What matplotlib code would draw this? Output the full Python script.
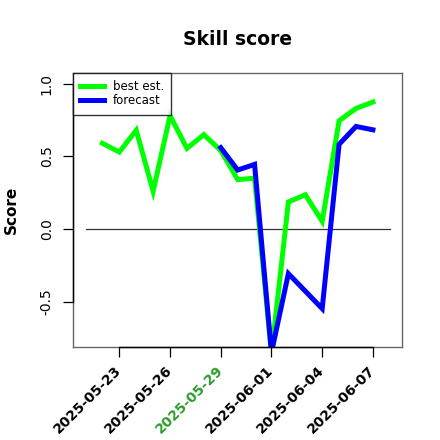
import numpy as np
import pandas as pd
import matplotlib
matplotlib.use("Agg")
import matplotlib.pyplot as plt
import matplotlib.dates as mdates

# Daily skill scores
best_dates = pd.date_range("2025-05-22", "2025-06-07", freq="D")
best_est = [0.59, 0.53, 0.68, 0.26, 0.78, 0.555, 0.65, 0.54, 0.34, 0.35,
            -0.86, 0.186, 0.236, 0.053, 0.745, 0.83, 0.874]

fc_dates = pd.to_datetime(["2025-05-29", "2025-05-30", "2025-05-31", "2025-06-01",
                           "2025-06-02", "2025-06-04", "2025-06-05", "2025-06-06",
                           "2025-06-07"])
forecast = [0.56, 0.406, 0.445, -0.85, -0.307, -0.548, 0.583, 0.706, 0.683]

tick_dates = pd.date_range("2025-05-23", "2025-06-07", freq="3D")
tick_labels = [d.strftime("%Y-%m-%d") for d in tick_dates]
highlight_label = "2025-05-29"

ref_start, ref_end = pd.Timestamp("2025-05-21"), pd.Timestamp("2025-06-08")
y_ticks = [-0.5, 0.0, 0.5, 1.0]

fig = plt.figure(figsize=(4.4, 4.4), dpi=100)
ax = fig.add_axes([0.1667, 0.2114, 0.7469, 0.6227])

x0 = mdates.date2num(ref_start)
x1 = mdates.date2num(ref_end)
span = x1 - x0
ax.set_xlim(x0 - 0.04 * span, x1 + 0.04 * span)
ax.set_ylim(-0.812, 1.074)

ax.plot([ref_start, ref_end], [0, 0], color="#333333", lw=0.9, zorder=1)
ax.plot(best_dates, best_est, color="#00FF00", lw=3.6, zorder=2,
        solid_joinstyle="miter", label="best est.")
ax.plot(fc_dates, forecast, color="#0000FF", lw=3.6, zorder=3,
        solid_joinstyle="miter", label="forecast")

# frame in grey, axis lines in black between the outer ticks
for s in ax.spines.values():
    s.set_color("#666666")
    s.set_linewidth(1.0)
ylo, yhi = ax.get_ylim()
xlo, xhi = ax.get_xlim()
ax.plot([mdates.date2num(tick_dates[0]), mdates.date2num(tick_dates[-1])], [ylo, ylo],
        color="black", lw=1.0, clip_on=False, zorder=5)
ax.plot([xlo, xlo], [y_ticks[0], y_ticks[-1]],
        color="black", lw=1.0, clip_on=False, zorder=5)

ax.set_xticks(mdates.date2num(tick_dates))
ax.set_xticklabels(tick_labels, rotation=45, ha="right", va="center",
                   rotation_mode="anchor", fontsize=10, fontweight="bold")
for lbl in ax.get_xticklabels():
    if lbl.get_text() == highlight_label:
        lbl.set_color("#2E9B2E")
ax.set_yticks(y_ticks)
ax.set_yticklabels([f"{v:.1f}" for v in y_ticks], rotation=90, va="center", fontsize=10)
ax.tick_params(axis="both", direction="out", length=7.2, width=0.9, color="black")
ax.tick_params(axis="x", pad=8)
ax.tick_params(axis="y", pad=7)

ax.set_ylabel("Score", fontsize=11, fontweight="bold")
ax.yaxis.set_label_coords(-0.165, 0.5)
ax.set_title("Skill score", fontsize=13.5, fontweight="bold", pad=20)

leg = ax.legend(loc="upper left", bbox_to_anchor=(0, 1), borderaxespad=0,
                fontsize=8.5, frameon=True, fancybox=False, handlelength=2.0,
                handletextpad=0.75, borderpad=0.6, labelspacing=0.12)
leg.get_frame().set_edgecolor("black")
leg.get_frame().set_linewidth(1.0)

fig.savefig("out.png", dpi=100)
